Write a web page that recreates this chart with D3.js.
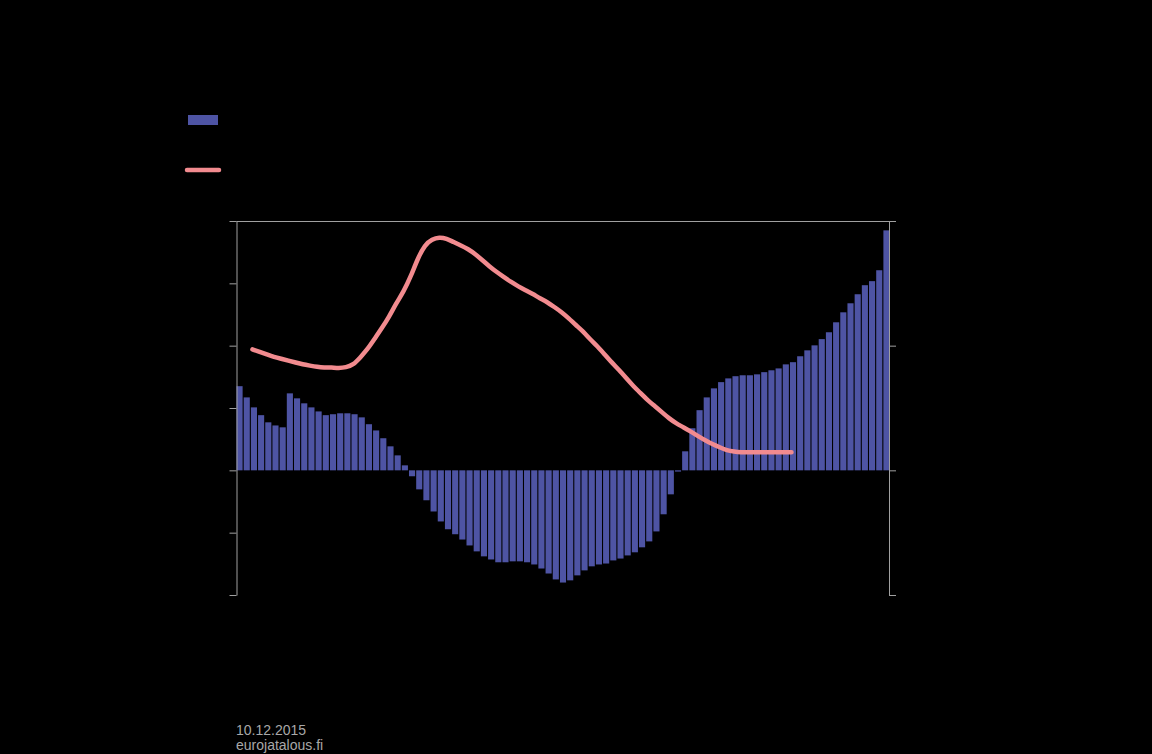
<!DOCTYPE html>
<html>
<head>
<meta charset="utf-8">
<script src="https://cdn.jsdelivr.net/npm/d3@7"></script>
<style>
  html, body { margin: 0; padding: 0; background: #000; }
  svg { display: block; }
</style>
</head>
<body>
<svg id="chart" width="1152" height="754"></svg>
<script>
// Bars: quarterly values (left axis)
const barValues = [
  2.70, 2.34, 2.02, 1.77, 1.54, 1.44, 1.38, 2.47, 2.31, 2.15,
  2.02, 1.89, 1.77, 1.80, 1.83, 1.83, 1.80, 1.70, 1.48, 1.28,
  1.03, 0.77, 0.48, 0.16, -0.19, -0.61, -0.96, -1.32, -1.64, -1.89,
  -2.05, -2.22, -2.41, -2.60, -2.76, -2.86, -2.95, -2.95, -2.92, -2.92,
  -2.95, -3.02, -3.15, -3.31, -3.50, -3.60, -3.53, -3.37, -3.21, -3.08,
  -3.02, -2.99, -2.89, -2.83, -2.73, -2.63, -2.47, -2.28, -1.96, -1.41,
  -0.77, -0.04, 0.61, 1.35, 1.93, 2.34, 2.63, 2.83, 2.95, 3.02,
  3.05, 3.05, 3.08, 3.15, 3.21, 3.27, 3.40, 3.47, 3.66, 3.85,
  4.01, 4.21, 4.43, 4.75, 5.07, 5.36, 5.65, 5.94, 6.07, 6.42,
  7.70
];
// Line: starts at quarter index 2 (right axis)
const lineStart = 2;
const lineValues = [
  1.94, 1.90, 1.86, 1.82, 1.79, 1.76, 1.73, 1.70, 1.68, 1.66,
  1.65, 1.65, 1.64, 1.65, 1.69, 1.81, 1.94, 2.11, 2.28, 2.46,
  2.68, 2.86, 3.10, 3.40, 3.62, 3.71, 3.74, 3.72, 3.66, 3.61,
  3.55, 3.47, 3.37, 3.27, 3.18, 3.10, 3.02, 2.95, 2.89, 2.83,
  2.76, 2.70, 2.62, 2.54, 2.44, 2.33, 2.23, 2.10, 1.99, 1.86,
  1.73, 1.61, 1.48, 1.35, 1.24, 1.12, 1.03, 0.93, 0.83, 0.75,
  0.69, 0.62, 0.55, 0.48, 0.42, 0.37, 0.32, 0.30, 0.29, 0.29,
  0.29, 0.29, 0.29, 0.29, 0.29, 0.29
];
const leftTicks = [-4, -2, 0, 2, 4, 6, 8];
const rightTicks = [-2, 0, 2, 4];
const footerLines = ["10.12.2015", "eurojatalous.fi"];

const BAR_COLOR = "#4e54a4";
const LINE_COLOR = "#f28b8f";
const AXIS_COLOR = "#a0a0a0";

const svg = d3.select("#chart");
svg.append("rect").attr("width", 1152).attr("height", 754).attr("fill", "#000");

const x0 = 236.5, x1 = 889.5, yTop = 221, yBot = 595;

const x = d3.scaleBand()
  .domain(d3.range(barValues.length))
  .range([x0, x1])
  .paddingInner(0.15)
  .paddingOuter(0);

const yL = d3.scaleLinear().domain([-4, 8]).range([yBot, yTop]);
const yR = d3.scaleLinear().domain([-2, 4]).range([yBot, yTop]);

// top frame line
svg.append("line")
  .attr("x1", x0).attr("x2", x1)
  .attr("y1", yTop + 0.5).attr("y2", yTop + 0.5)
  .attr("stroke", AXIS_COLOR).attr("stroke-width", 1);

// bars
svg.append("g").selectAll("rect")
  .data(barValues)
  .join("rect")
  .attr("x", (d, i) => x(i))
  .attr("width", x.bandwidth())
  .attr("y", d => d >= 0 ? yL(d) : yL(0))
  .attr("height", d => Math.abs(yL(d) - yL(0)))
  .attr("fill", BAR_COLOR);

// axes
const gL = svg.append("g")
  .attr("transform", `translate(${x0},0)`)
  .call(d3.axisLeft(yL).tickValues(leftTicks).tickSize(7).tickSizeOuter(0).tickFormat(""));
const gR = svg.append("g")
  .attr("transform", `translate(${x1 - 0.5},0)`)
  .call(d3.axisRight(yR).tickValues(rightTicks).tickSize(7).tickSizeOuter(0).tickFormat(""));
[gL, gR].forEach(g => {
  g.select(".domain").attr("stroke", AXIS_COLOR);
  g.selectAll(".tick line").attr("stroke", AXIS_COLOR);
});

// line
const lineData = lineValues.map((v, k) => ({ i: lineStart + k, v }));
const lineGen = d3.line()
  .x(d => x(d.i) + x.bandwidth() / 2 - 1.5)
  .y(d => yR(d.v))
  .curve(d3.curveBasis);
svg.append("path")
  .datum(lineData)
  .attr("d", lineGen)
  .attr("fill", "none")
  .attr("stroke", LINE_COLOR)
  .attr("stroke-width", 4.5)
  .attr("stroke-linecap", "round")
  .attr("stroke-linejoin", "round");

// legend
svg.append("rect")
  .attr("x", 188).attr("y", 115).attr("width", 30).attr("height", 10)
  .attr("fill", BAR_COLOR);
svg.append("line")
  .attr("x1", 187).attr("x2", 219).attr("y1", 170).attr("y2", 170)
  .attr("stroke", LINE_COLOR).attr("stroke-width", 4.5)
  .attr("stroke-linecap", "round");

// footer
svg.append("g").selectAll("text")
  .data(footerLines)
  .join("text")
  .attr("x", 236)
  .attr("y", (d, i) => 735 + i * 15)
  .attr("fill", "#a8a8a8")
  .attr("font-family", "Liberation Sans, Arial, sans-serif")
  .attr("font-size", 14)
  .text(d => d);
</script>
</body>
</html>
